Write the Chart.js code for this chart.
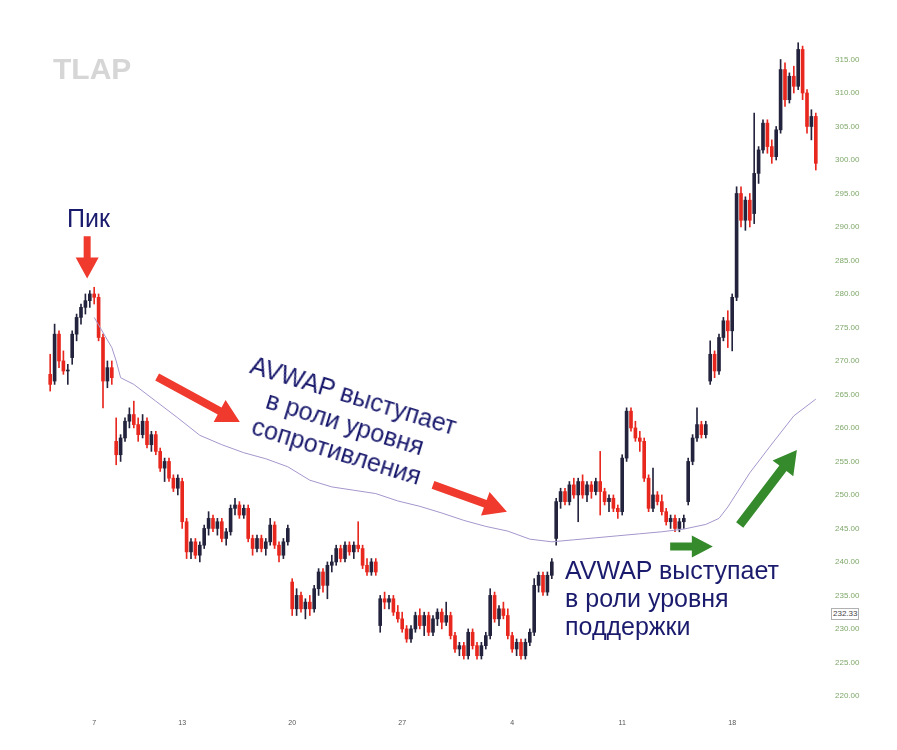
<!DOCTYPE html>
<html>
<head>
<meta charset="utf-8">
<script src="https://cdn.jsdelivr.net/npm/chart.js@4.4.1/dist/chart.umd.min.js"></script>
<style>
  body { margin:0; background:#fff; }
  #wrap { position:relative; width:897px; height:750px; overflow:hidden; font-family:"Liberation Sans", Arial, sans-serif; }
  #chart { position:absolute; left:0; top:0; }
  .note { position:absolute; color:#1b1b6e; font-size:25px; white-space:nowrap; }
  #peak { left:67px; top:206px; line-height:25px; }
  #resist { left:225px; top:380px; width:240px; text-align:center; line-height:29px; transform:rotate(17deg); transform-origin:center; }
  #support { left:565px; top:556px; line-height:28px; }
  #logo { position:absolute; left:53px; top:54px; font-size:30px; line-height:30px; font-weight:bold; color:#d6d6d6; }
  #last { position:absolute; left:831px; top:608px; font-size:8px; line-height:10px; padding:0 1px; border:1px solid #b0b0b0; color:#444; background:#fff; }
</style>
</head>
<body>
<div id="wrap">
  <canvas id="chart" width="897" height="750"></canvas>
  <div id="logo">TLAP</div>
  <div class="note" id="peak">Пик</div>
  <div class="note" id="resist">AVWAP выступает<br>в роли уровня<br>сопротивления</div>
  <div class="note" id="support">AVWAP выступает<br>в роли уровня<br>поддержки</div>
  <div id="last">232.33</div>
</div>
<script>
// trading days (5 bars each)
const days = ['2','3','7','8','9','10','13','14','15','16','17','20','21','22','23','24',
              '27','28','29','30','1','4','5','6','7','8','11','12','13','14','15','18','19','20','21'];
const barsPerDay = 5;
const dateTicks = ['7','13','20','27','4','11','18'];
const priceTicks = [220,225,230,235,240,245,250,255,260,265,270,275,280,285,290,295,300,305,310,315];
const lastPrice = 232.33;

// [open, high, low, close], one line per day
const candles = [
  [268,271,265.5,266.5],[267,275.5,266.5,274],[274,274.5,269,270],[270,271.5,268,268.5],[268.5,269.5,266.5,268.5],
  [270.5,274.5,269.5,274],[274,277,273,276.5],[276.5,278.5,275.5,278],[278,280,277,279],[279,280.5,278,280],
  [280,281,278.5,279.5],[279.5,280,273,273.5],[273.5,274,263,267],[267,270,266,269],[269,270,266.5,267.5],
  [258,261.5,254.5,256],[256,259,255,258.5],[258.5,261.5,258,261],[261,263,260,262],[262,264,260,260.5],
  [260.5,261.5,258,259],[259,262,258.5,261],[261,261.5,257,257.5],[257.5,259.5,256.5,259],[259,259.5,256,256.5],
  [256.5,257,253.5,254],[254,255.5,252,255],[255,255.5,252,252.5],[252.5,253,250.5,251],[251,253,250,252.5],
  [252,252.5,245,246],[246,246.5,240.5,241.5],[241.5,243.5,240.5,243],[243,243.5,240.5,241],[241,243,240,242.5],
  [242.5,245.5,242,245],[245,247.5,244,246.5],[246.5,247,244.5,245],[245,246.5,244,246],[246,246.5,243,243.5],
  [243.5,245,242.5,244.5],[244.5,248.5,244,248],[248,249.5,247,248.5],[248.5,249,246.5,247],[247,248.5,246.5,248],
  [248,248.5,243,243.5],[243.5,244,241,242],[242,244,241.5,243.5],[243.5,244,241.5,242],[242,243.5,241,243],
  [243,246.5,242.5,245.5],[245.5,246,242,242.5],[242.5,243,240,241],[241,243.5,240.5,243],[243,245.5,242.5,245],
  [237,237.5,232,233],[233,236,232,235],[235,235.5,232.5,233],[233,234.5,231.5,234],[234,235,232,233],
  [233,236.5,232.5,236],[236,239,235,238.5],[238.5,239,235.5,236.5],[236.5,240,234.5,239.5],[239.5,241,238.5,240],
  [240,242.5,239.5,242],[242,242.5,240,240.5],[240.5,243,240,242.5],[242.5,243,241,241.5],[241.5,243,240.5,242.5],
  [242.5,246,241.5,242],[242,242.5,239,239.5],[239.5,240.5,238,238.5],[238.5,240.5,238,240],[240,240.5,238,238.5],
  [230.5,235,229.5,234.5],[234.5,235.5,233,234],[234,235,233,234.5],[234.5,235,232,232.5],[232.5,233.5,231,231.5],
  [231.5,232.5,229.5,230],[230,230.5,228,228.5],[228.5,230.5,228,230],[230,232.5,229.5,232],[232,233,230,230.5],
  [230.5,232.5,229,232],[232,232.5,229,229.5],[229.5,232,229,231.5],[231.5,233,230.5,232.5],[232.5,233,230,231],
  [231,234,230.5,232],[232,232.5,228.5,229],[229,229.5,226.5,227],[227,228,226,227.5],[227.5,228,225.5,226],
  [226,230,225.5,229.5],[229.5,230,227,227.5],[227.5,228,225.5,226],[226,228,225.5,227.5],[227.5,229.5,227,229],
  [229,236,228.5,235],[235,235.5,231,231.5],[231.5,233.5,230.5,233],[233,234,231.5,232],[232,233,228.5,229],
  [229,229.5,226.5,227],[227,228.5,226,228],[228,228.5,225.5,226],[226,228.5,225.5,228],[228,230,227.5,229.5],
  [229.5,237.5,229,236.5],[236.5,238.5,235.5,238],[238,238.5,235,235.5],[235.5,238.5,235,238],[238,240.5,237.5,240],
  [243.5,249.5,242.5,249],[249,251,248,250.5],[250.5,251,248.5,249],[249,252,248.5,251.5],[251.5,252.5,249.5,250],
  [250,252.5,246,252],[252,253,249.5,250],[250,252,249,251.5],[251.5,252,249.5,250.5],[250.5,252.5,250,252],
  [252,256.5,247,250.5],[250.5,251,248.5,249],[249,250,247.5,249.5],[249.5,250,247.5,248],[248,248.5,246.5,247.5],
  [247.5,256,247,255.5],[255.5,263,255,262.5],[262.5,263,259.5,260],[260,261,258,258.5],[258.5,259.5,256.5,258],
  [258,258.5,252,252.5],[252.5,253,247.5,248],[248,254,247.5,250],[250,250.5,248.5,249],[249,250,247,247.5],
  [247.5,248,245.5,246],[246,247,245,246.5],[246.5,247,244.5,245],[245,246.5,244.5,246],[246,247,245,246.5],
  [249,255.5,248.5,255],[255,259,254.5,258.5],[258.5,263,258,260.5],[260.5,261,258.5,259],[259,261,258.5,260.5],
  [267,273,266.5,271],[271,271.5,267.5,268.5],[268.5,274,268,273.5],[273.5,276.5,273,276],[276,277.5,272,274.5],
  [274.5,280,271.5,279.5],[279.5,296,279,295],[295,296,290,291],[291,294.5,289.5,294],[294,295,290,291],
  [292,307,290.5,298],[298,302,296.5,301.5],[301.5,306,301,305.5],[305.5,306,301,302],[302,303,299.5,300.5],
  [300.5,305,300,304.5],[304.5,315,304,313.5],[313.5,314.5,308,309],[309,313,308.5,312.5],[312.5,314,310,311],
  [311,317.5,310.5,316.5],[316.5,317,309,310],[310,310.5,304,305],[305,307.5,303,306.5],[306.5,307,298.5,299.5]
];

// AVWAP anchored at the peak, read at these bars
const avwapBars = [10,14,15,16,19,24,29,34,39,44,49,54,59,64,69,74,79,84,89,94,99,104,
                   109,114,119,124,129,134,139,144,149,152,154,159,164,169,174];
const avwapValues = [276.5,272,270,267.5,266.5,264,261.5,258.9,257.5,256.3,255.4,254.2,252.2,251.2,250.7,250.2,249.1,248.3,247.3,246.2,245.3,244.6,
                     243.4,243,243.3,243.6,243.9,244.2,244.5,244.9,245.6,246.5,248.2,253.3,257.6,261.8,264.3];

// annotation arrows in chart coordinates: [bar, price]
const arrows = [
  {from:[8.4,288.6], to:[8.4,282.3], color:'#ef3a2d', shaft:7, headW:23, headL:21},
  {from:[24.3,267.6], to:[43.1,260.9], color:'#ef3a2d', shaft:8, headW:25, headL:23},
  {from:[87.0,251.5], to:[103.8,247.5], color:'#ef3a2d', shaft:8, headW:25, headL:23},
  {from:[140.9,242.3], to:[150.6,242.3], color:'#358a2b', shaft:8, headW:22, headL:21},
  {from:[156.7,245.5], to:[169.7,256.7], color:'#358a2b', shaft:9, headW:26, headL:23}
];

const UP = '#23233d', DOWN = '#e8271e';

let labels = days.flatMap(d => Array(barsPerDay).fill(d));
let colors = candles.map(c => c[3] >= c[0] ? UP : DOWN);
let avwap = candles.map(() => null);
avwapBars.forEach((b, i) => { avwap[b] = avwapValues[i]; });
let tickIdx = dateTicks.map(d => days.indexOf(d) * barsPerDay);

function drawArrow(ctx, x1, y1, x2, y2, a) {
  let dx = x2 - x1, dy = y2 - y1, len = Math.hypot(dx, dy);
  let ux = dx / len, uy = dy / len, nx = -uy, ny = ux;
  let bx = x2 - ux * a.headL, by = y2 - uy * a.headL;
  ctx.beginPath();
  ctx.moveTo(x1 + nx * a.shaft / 2, y1 + ny * a.shaft / 2);
  ctx.lineTo(bx + nx * a.shaft / 2, by + ny * a.shaft / 2);
  ctx.lineTo(bx + nx * a.headW / 2, by + ny * a.headW / 2);
  ctx.lineTo(x2, y2);
  ctx.lineTo(bx - nx * a.headW / 2, by - ny * a.headW / 2);
  ctx.lineTo(bx - nx * a.shaft / 2, by - ny * a.shaft / 2);
  ctx.lineTo(x1 - nx * a.shaft / 2, y1 - ny * a.shaft / 2);
  ctx.closePath();
  ctx.fillStyle = a.color;
  ctx.fill();
}

const arrowPlugin = {
  id: 'arrows',
  afterDatasetsDraw(chart) {
    const ctx = chart.ctx, x = chart.scales.x, y = chart.scales.y;
    ctx.save();
    arrows.forEach(a => {
      drawArrow(ctx, x.getPixelForValue(a.from[0]), y.getPixelForValue(a.from[1]),
                x.getPixelForValue(a.to[0]), y.getPixelForValue(a.to[1]), a);
    });
    ctx.restore();
  }
};

new Chart(document.getElementById('chart'), {
  type: 'bar',
  data: {
    labels: labels,
    datasets: [{
      type: 'line',
      label: 'AVWAP',
      data: avwap,
      borderColor: '#a596cc',
      borderWidth: 1,
      pointRadius: 0,
      spanGaps: true,
      tension: 0
    }, {
      label: 'body',
      data: candles.map(c => [c[0], c[3]]),
      backgroundColor: colors,
      barThickness: 3,
      minBarLength: 1,
      grouped: false
    }, {
      label: 'wick',
      data: candles.map(c => [c[2], c[1]]),
      backgroundColor: colors,
      barThickness: 1,
      grouped: false
    }]
  },
  options: {
    responsive: false,
    animation: false,
    layout: { padding: { left: 48, top: 26, right: 0, bottom: 0 } },
    plugins: { legend: { display: false }, tooltip: { enabled: false } },
    scales: {
      x: {
        grid: { display: false, drawTicks: false },
        border: { display: false },
        ticks: { autoSkip: false, maxRotation: 0, padding: 3, color: '#555', font: { size: 7, family: 'Liberation Sans' } },
        afterBuildTicks: s => { s.ticks = tickIdx.map(i => ({ value: i })); },
        afterFit: s => { s.height = 34; }
      },
      y: {
        position: 'right',
        min: 217,
        max: 320,
        grid: { display: false, drawTicks: false },
        border: { display: false },
        ticks: { padding: 17, color: '#7fa86a', font: { size: 8, family: 'Liberation Sans' },
                 callback: v => v.toFixed(2) },
        afterBuildTicks: s => { s.ticks = priceTicks.map(v => ({ value: v })); },
        afterFit: s => { s.width = 79; }
      }
    }
  },
  plugins: [arrowPlugin]
});
</script>
</body>
</html>
